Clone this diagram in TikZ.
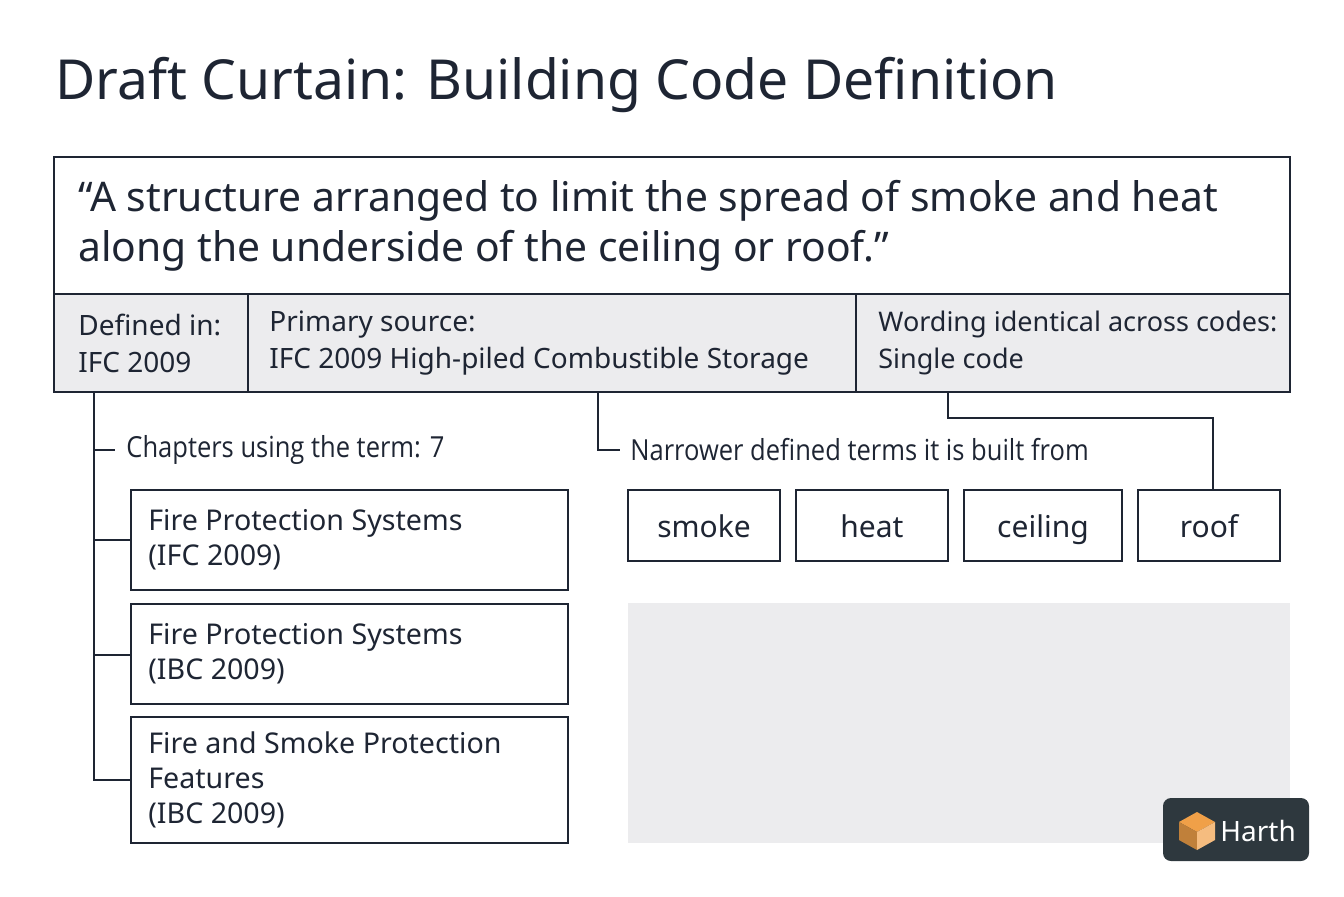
\documentclass[tikz,border=0pt]{standalone}
\usepackage{fontspec}
\setmainfont{Noto Sans}
\newfontfamily\condfont{Open Sans}[FakeStretch=0.88]
\usetikzlibrary{positioning}
\definecolor{ink}{HTML}{1E2533}
\definecolor{panel}{HTML}{ECECEE}
\definecolor{logobg}{HTML}{2E383E}
\definecolor{logoor}{HTML}{F0A048}
\tikzset{
  box/.style={draw=ink,line width=1.2pt,anchor=north west,inner sep=0pt},
  wire/.style={draw=ink,line width=1.2pt},
  txt/.style={anchor=west,text=ink,inner sep=0pt,align=left},
}
\begin{document}
\begin{tikzpicture}[x=0.5pt,y=-0.5pt]
\useasboundingbox (0,0) rectangle (1344,896);
\node[txt,font=\fontsize{27.6}{34}\selectfont] (title) at (55,85) {Draft Curtain: Building Code Definition};
% quote and info row
\draw[box] (54,157) rectangle (1290,294);
\node[txt,font=\fontsize{20.4}{25}\selectfont] (quote) at (78,226) {\textquotedblleft A structure arranged to limit the spread of smoke and heat\\along the underside of the ceiling or roof.\textquotedblright};
\filldraw[box,fill=panel] (54,294) rectangle (1290,392);
\draw[wire] (248,294) -- (248,392) (856,294) -- (856,392);
\node[txt,font=\fontsize{14}{18.5}\selectfont] (defin) at (78,343) {Defined in:\\IFC 2009};
\node[txt,font=\fontsize{14}{18.5}\selectfont] (source) at (269,343) {Primary source:\\IFC 2009 High-piled Combustible Storage};
\node[txt,font=\fontsize{13.5}{18.5}\selectfont] (wording) at (878,343) {Wording identical across codes:\\Single code};
% chapters
\node[txt,font=\condfont\fontsize{14.5}{18}\selectfont] (chap) at (126,450) {Chapters using the term: 7};
\foreach \n/\t/\b/\l in {c1/490/590/{Fire Protection Systems\\(IFC 2009)},c2/604/704/{Fire Protection Systems\\(IBC 2009)},c3/717/843/{Fire and Smoke Protection\\Features\\(IBC 2009)}}{
  \draw[box] (131,\t) rectangle (568,\b);
  \node[txt,font=\fontsize{14.3}{17.5}\selectfont] (\n) at (148,{(\t+\b)/2}) {\l};
}
\draw[wire] (94,392) -- (94,780) -- (131,780);
\draw[wire] (94,450) -- (115,450) (94,540) -- (131,540) (94,655) -- (131,655);
% terms
\node[txt,font=\condfont\fontsize{14.5}{18}\selectfont] (narrow) at (630,450) {Narrower defined terms it is built from};
\draw[wire] (598,392) -- (598,450) -- (620,450);
\foreach \n/\a/\b in {smoke/628/780,heat/796/948,ceiling/964/1122,roof/1138/1280}{
  \draw[box] (\a,490) rectangle (\b,561);
  \node[text=ink,anchor=base,font=\fontsize{15}{18}\selectfont] (t\n) at ({(\a+\b)/2},537) {\n};
}
\draw[wire] (948,392) -- (948,418) -- (1213,418) -- (1213,490);
\fill[panel] (628,603) rectangle (1290,843);
% logo
\fill[logobg,rounded corners=4pt] (1163,798) rectangle (1309,861);
\fill[logoor] (1197,812) -- (1215,822) -- (1197,832) -- (1179,822) -- cycle;
\fill[logoor!80!black] (1179,822) -- (1197,832) -- (1197,850) -- (1179,840) -- cycle;
\fill[logoor!70!white] (1215,822) -- (1197,832) -- (1197,850) -- (1215,840) -- cycle;
\node[txt,text=white,font=\bfseries\fontsize{14}{16}\selectfont] (logo) at (1220,831) {Harth};
\end{tikzpicture}
\end{document}
